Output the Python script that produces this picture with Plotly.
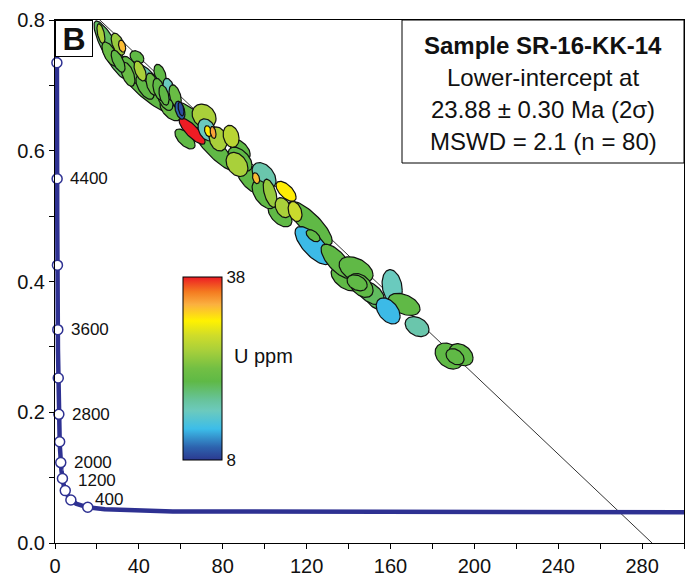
import numpy as np
import plotly.graph_objects as go

# ---------------- data ----------------
# Error ellipses: 238U/206Pb, 2s half-extent, 207Pb/206Pb, 2s half-extent, error correlation, U (ppm)
u238_pb206 = [45.3, 26.7, 66.8, 76.3, 121.7, 36.7, 54.9, 62.0, 93.0, 107.3, 138.4, 152.7,
              42.9, 52.5, 34.8, 30.1, 50.1, 88.3,
              21.9, 26.2, 30.1, 39.1, 44.4, 40.6, 46.3, 49.6, 54.4, 52.0, 57.3,
              65.4, 59.6, 60.1, 71.1, 72.5, 77.8, 84.0, 73.0, 75.4,
              88.3, 86.8, 99.7, 110.2, 99.7, 102.6, 95.9, 108.8, 114.5,
              123.1, 123.1, 134.5, 143.6, 150.3, 146.0, 144.1, 160.8, 166.5, 158.9, 172.7,
              188.0, 193.7, 190.8, 32.0]
u238_err = [13.4, 8.1, 10.5, 10.5, 10.5, 4.8, 4.8, 4.8, 6.7, 5.7, 6.7, 4.8,
            4.3, 3.8, 3.3, 3.3, 2.9, 4.8,
            1.9, 3.8, 3.3, 3.3, 5.7, 2.9, 2.9, 2.9, 2.9, 2.4, 2.9,
            6.2, 2.4, 1.4, 5.7, 4.3, 4.3, 3.8, 1.7, 1.4,
            5.7, 5.2, 5.7, 4.8, 5.7, 3.3, 1.7, 3.8, 3.3,
            8.6, 3.3, 7.6, 8.1, 6.7, 5.7, 4.8, 4.8, 7.6, 5.7, 5.7,
            6.7, 5.7, 4.3, 1.7]
pb207_pb206 = [0.690, 0.754, 0.641, 0.602, 0.489, 0.723, 0.661, 0.618, 0.559, 0.502, 0.404, 0.372,
               0.697, 0.680, 0.717, 0.763, 0.717, 0.602,
               0.779, 0.748, 0.737, 0.743, 0.714, 0.722, 0.702, 0.694, 0.694, 0.685, 0.684,
               0.630, 0.662, 0.664, 0.653, 0.632, 0.618, 0.622, 0.630, 0.628,
               0.587, 0.579, 0.562, 0.538, 0.533, 0.535, 0.558, 0.513, 0.507,
               0.455, 0.470, 0.431, 0.418, 0.383, 0.394, 0.398, 0.392, 0.365, 0.355, 0.331,
               0.286, 0.288, 0.285, 0.760]
pb207_err = [0.0353, 0.0445, 0.0337, 0.0337, 0.0337, 0.0215, 0.0153, 0.0153, 0.0245, 0.0184, 0.0184, 0.0153,
             0.0184, 0.0184, 0.0184, 0.0169, 0.0153, 0.0153,
             0.0153, 0.0184, 0.0169, 0.0100, 0.0184, 0.0153, 0.0169, 0.0169, 0.0169, 0.0153, 0.0169,
             0.0200, 0.0138, 0.0107, 0.0184, 0.0169, 0.0184, 0.0169, 0.0084, 0.0092,
             0.0184, 0.0184, 0.0199, 0.0153, 0.0215, 0.0215, 0.0084, 0.0153, 0.0153,
             0.0291, 0.0092, 0.0261, 0.0199, 0.0184, 0.0184, 0.0123, 0.0261, 0.0169, 0.0199, 0.0153,
             0.0199, 0.0169, 0.0123, 0.0092]
err_corr = [-0.87, -0.85, -0.80, -0.87, -0.80, -0.7, -0.6, -0.6, -0.6, -0.5, -0.5, -0.5,
            -0.6, -0.5, -0.5, -0.5, -0.4, -0.5,
            -0.5, -0.6, -0.6, -0.3, -0.8, -0.5, -0.4, -0.4, -0.4, -0.4, -0.4,
            -0.8, -0.4, -0.4, -0.2, -0.3, -0.2, -0.2, -0.3, -0.3,
            -0.5, -0.3, -0.4, -0.6, -0.5, -0.5, -0.3, -0.3, -0.3,
            -0.7, -0.5, -0.7, -0.4, -0.5, -0.4, -0.3, -0.2, -0.4, -0.4, -0.3,
            -0.3, -0.3, -0.3, -0.3]
u_ppm = [21, 20, 21, 21, 21, 21, 22, 21, 21, 21, 21, 20,
         21, 21, 22, 25, 21, 21,
         26, 22, 21, 21, 17, 26, 22, 21, 16, 21, 22,
         38, 10, 9, 26, 16, 26, 27, 31, 34,
         21, 26, 17, 31, 21, 25, 33, 26, 28,
         13, 21, 21, 21, 20, 21, 21, 16, 21, 13, 17,
         21, 21, 21, 33]

u_min, u_max = 8, 38
cbar_ticks = [8, 38]

marker_ages = [400, 800, 1200, 1600, 2000, 2400, 2800, 3200, 3600, 4000, 4400, 4800]  # Ma
label_ages = [400, 1200, 2000, 2800, 3600, 4400]
lower_intercept_age = 23.88   # Ma
common_pb = 0.865             # 207Pb/206Pb at y-intercept

x_ticks = list(range(0, 301, 20))
x_ticktext = [str(v) if v % 40 == 0 else "" for v in x_ticks]
y_ticks = [round(0.1 * i, 1) for i in range(9)]
y_ticktext = ["%.1f" % v if round(v * 10) % 2 == 0 else "" for v in y_ticks]

info_lines = ["<b>Sample SR-16-KK-14</b>", "Lower-intercept at",
              "23.88 ± 0.30 Ma (2σ)", "MSWD = 2.1 (n = 80)"]

# ---------------- helpers ----------------
L238, L235, R = 1.55125e-10, 9.8485e-10, 137.88


def tw(age_ma):
    t = np.asarray(age_ma, dtype=float) * 1e6
    e8 = np.exp(L238 * t) - 1
    e5 = np.exp(L235 * t) - 1
    return 1 / e8, e5 / e8 / R


cscale = [[0.0, "#2b3990"], [0.07, "#2d63ae"], [0.17, "#3cbde9"], [0.27, "#6ccabd"],
          [0.33, "#67c39a"], [0.43, "#5fb946"], [0.5, "#72bf44"], [0.6, "#a9d03a"],
          [0.68, "#cfdc2a"], [0.76, "#fff200"], [0.85, "#fbb040"], [0.92, "#f47a20"],
          [1.0, "#ed1c24"]]


def hex2rgb(h):
    h = h.lstrip("#")
    return [int(h[i:i + 2], 16) for i in (0, 2, 4)]


def color_for(u):
    p = min(max((u - u_min) / (u_max - u_min), 0), 1)
    for (p0, c0), (p1, c1) in zip(cscale[:-1], cscale[1:]):
        if p0 <= p <= p1:
            f = (p - p0) / (p1 - p0) if p1 > p0 else 0
            a, b = hex2rgb(c0), hex2rgb(c1)
            return "rgb(%d,%d,%d)" % tuple(round(a[i] + f * (b[i] - a[i])) for i in range(3))
    return cscale[-1][1]


fig = go.Figure()

# discordia
xl, yl = tw(lower_intercept_age)
slope = (yl - common_pb) / xl
x_end = -common_pb / slope
fig.add_trace(go.Scatter(x=[0, x_end], y=[common_pb, 0], mode="lines",
                         line=dict(color="#333333", width=1), hoverinfo="skip", showlegend=False))

# ellipses
t = np.linspace(0, 2 * np.pi, 80)
for X, sX, Y, sY, r, u in zip(u238_pb206, u238_err, pb207_pb206, pb207_err, err_corr, u_ppm):
    ex = X + sX * np.cos(t)
    ey = Y + sY * (r * np.cos(t) + np.sqrt(1 - r * r) * np.sin(t))
    fig.add_trace(go.Scatter(x=ex, y=ey, mode="lines", fill="toself",
                             fillcolor=color_for(u), line=dict(color="#111111", width=1.2),
                             hoverinfo="skip", showlegend=False))

# concordia
ages = np.concatenate([np.linspace(15, 400, 200), np.linspace(400, 5000, 400)])
cx, cy = tw(ages)
fig.add_trace(go.Scatter(x=cx, y=cy, mode="lines", line=dict(color="#2e3192", width=4.5),
                         hoverinfo="skip", showlegend=False))
mx, my = tw(marker_ages)
fig.add_trace(go.Scatter(x=mx, y=my, mode="markers",
                         marker=dict(size=10, color="white", line=dict(color="#2e3192", width=1.5)),
                         hoverinfo="skip", showlegend=False, cliponaxis=False))
lx, ly = tw(label_ages)
for a, x0, y0 in zip(label_ages, lx, ly):
    xs, ys = 11, 0
    if a == 400:
        xs, ys = 5, 8
    elif a == 1200:
        xs, ys = 11, 10
    fig.add_annotation(x=x0, y=y0, text=str(a), showarrow=False, xanchor="left",
                       xshift=xs, yshift=ys, font=dict(size=17, color="#111111"))

# colorbar (dummy trace)
fig.add_trace(go.Scatter(x=[None], y=[None], mode="markers",
                         marker=dict(color=[u_min], cmin=u_min, cmax=u_max, colorscale=cscale,
                                     showscale=True,
                                     colorbar=dict(x=(183 - 55) / 629, xanchor="left",
                                                   y=(543 - 368.5) / 523, yanchor="middle",
                                                   len=183 / 523, lenmode="fraction",
                                                   thickness=39, thicknessmode="pixels",
                                                   xpad=0, ypad=0, outlinewidth=1,
                                                   outlinecolor="black", tickvals=cbar_ticks,
                                                   ticks="", tickfont=dict(size=17, color="#111111"))),
                         hoverinfo="skip", showlegend=False))
fig.add_annotation(x=(232 - 55) / 629, y=(543 - 369) / 523, xref="paper", yref="paper",
                   text="U ppm", showarrow=False, xanchor="left", font=dict(size=20, color="#111111"))

# B label
fig.add_annotation(x=0, y=1, xref="paper", yref="paper", xanchor="left", yanchor="top",
                   text="<b>B</b>", showarrow=False, width=36, height=35, borderpad=0,
                   bordercolor="black", borderwidth=1, bgcolor="white",
                   font=dict(size=32, color="#111111"))

# info box
fig.add_shape(type="rect", xref="paper", yref="paper", x0=(402 - 55) / 629, x1=1,
              y0=(543 - 163) / 523, y1=1, line=dict(color="black", width=1), fillcolor="white",
              layer="above")
for txt, py in zip(info_lines, [45, 77, 109, 141]):
    fig.add_annotation(x=(543 - 55) / 629, y=(543 - py) / 523, xref="paper", yref="paper",
                       text=txt, showarrow=False, xanchor="center", yanchor="middle",
                       font=dict(size=24, color="#111111"))

axis_common = dict(showline=True, linecolor="black", linewidth=1, mirror=True,
                   ticks="outside", ticklen=5, tickcolor="black", showgrid=False,
                   zeroline=False, automargin=False, tickfont=dict(size=20, color="#111111"))
fig.update_xaxes(range=[0, 300], tickvals=x_ticks, ticktext=x_ticktext, **axis_common)
fig.update_yaxes(range=[0, 0.8], tickvals=y_ticks, ticktext=y_ticktext, **axis_common)

# page body has an 8 px margin: plot area lands at 55..684 x 20..543 in the window
fig.update_layout(width=680, height=570,
                  margin=dict(l=47, r=4, t=12, b=35, autoexpand=False),
                  plot_bgcolor="white", paper_bgcolor="white",
                  font=dict(family="Liberation Sans, Arial, sans-serif", color="#111111"),
                  showlegend=False)

fig.write_html("out.html")
